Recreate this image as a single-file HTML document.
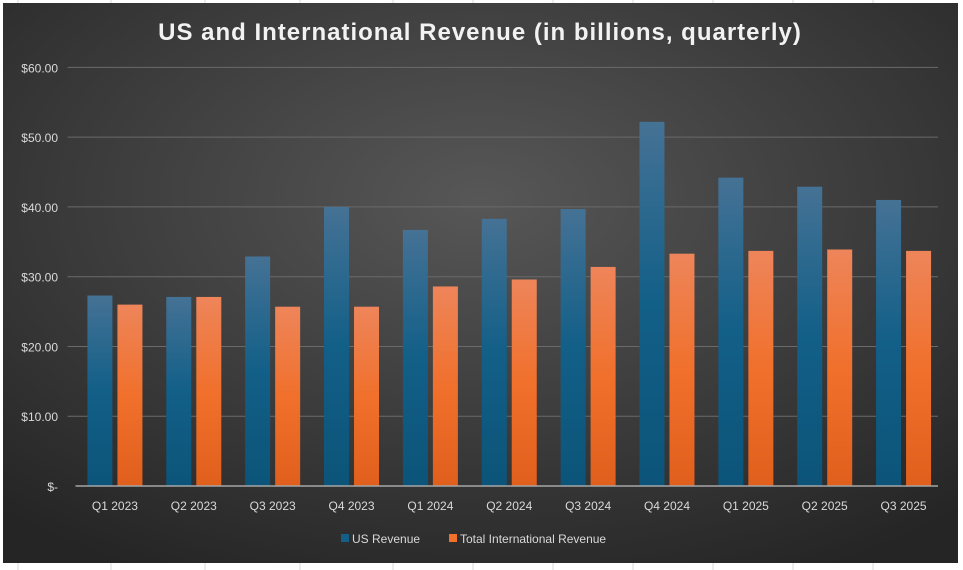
<!DOCTYPE html>
<html><head><meta charset="utf-8"><style>
html,body{margin:0;padding:0;background:#fff;width:963px;height:570px;overflow:hidden}
svg{display:block;font-family:"Liberation Sans",sans-serif}
</style></head><body>
<svg width="963" height="570">
<defs>
<radialGradient id="bg" cx="0.5" cy="0.35" r="0.75">
<stop offset="0" stop-color="#575757"/><stop offset="1" stop-color="#252525"/>
</radialGradient>
<linearGradient id="gUS" x1="0" y1="0" x2="0" y2="1">
<stop offset="0" stop-color="#457295"/><stop offset="0.5" stop-color="#125f88"/><stop offset="1" stop-color="#0c5479"/>
</linearGradient>
<linearGradient id="gIN" x1="0" y1="0" x2="0" y2="1">
<stop offset="0" stop-color="#ee855a"/><stop offset="0.5" stop-color="#f0702c"/><stop offset="1" stop-color="#e05f1c"/>
</linearGradient>
</defs>
<g stroke="#d8d8d8" stroke-width="1">
<line x1="18" y1="0" x2="18" y2="570"/><line x1="111" y1="0" x2="111" y2="570"/><line x1="205" y1="0" x2="205" y2="570"/><line x1="300" y1="0" x2="300" y2="570"/><line x1="393" y1="0" x2="393" y2="570"/><line x1="473" y1="0" x2="473" y2="570"/><line x1="553" y1="0" x2="553" y2="570"/><line x1="633" y1="0" x2="633" y2="570"/><line x1="713" y1="0" x2="713" y2="570"/><line x1="793" y1="0" x2="793" y2="570"/><line x1="873" y1="0" x2="873" y2="570"/>
</g>
<rect x="3" y="3" width="955" height="560" fill="url(#bg)"/>
<text x="480" y="40" text-anchor="middle" fill="#f2f2f2" font-size="24" font-weight="bold" letter-spacing="1">US and International Revenue (in billions, quarterly)</text>
<g id="plot"></g>
<g>
<rect x="341" y="534" width="8" height="8" fill="#125f88"/>
<text x="352" y="543" fill="#d9d9d9" font-size="12">US Revenue</text>
<rect x="449" y="534" width="8" height="8" fill="#f0702c"/>
<text x="460" y="543" fill="#d9d9d9" font-size="12">Total International Revenue</text>
</g>
</svg>
<script>
const categories=["Q1 2023","Q2 2023","Q3 2023","Q4 2023","Q1 2024","Q2 2024","Q3 2024","Q4 2024","Q1 2025","Q2 2025","Q3 2025"];
const usRevenue=[27.3,27.1,32.9,40.0,36.7,38.3,39.7,52.2,44.2,42.9,41.0];
const intlRevenue=[26.0,27.1,25.7,25.7,28.6,29.6,31.4,33.3,33.7,33.9,33.7];
const yTicks=[0,10,20,30,40,50,60];
const yTickLabels=["$-","$10.00","$20.00","$30.00","$40.00","$50.00","$60.00"];
const NS="http://www.w3.org/2000/svg";
const plotG=document.getElementById('plot');
const plotLeft=75.5,plotRight=943,plotBase=486,plotTop=67.4,maxV=60;
const step=(plotRight-plotLeft)/categories.length;
function yPos(v){return plotBase-(v/maxV)*(plotBase-plotTop);}
function xPos(i){return plotLeft+step*(i+0.5);}
function mk(t,a){const e=document.createElementNS(NS,t);for(const k in a)e.setAttribute(k,a[k]);plotG.appendChild(e);return e;}
yTicks.forEach((v,i)=>{
 if(v>0){const l=mk('line',{x1:plotLeft-8,x2:938,y1:yPos(v),y2:yPos(v),stroke:'#6a6a6a','stroke-width':1});
 
 }
 const t=mk('text',{x:58,y:yPos(v)+5,'text-anchor':'end',fill:'#d9d9d9','font-size':12});
 t.textContent=yTickLabels[i];
 
 
});
const bw=25,gap=5;
categories.forEach((c,i)=>{
 const cx=xPos(i);
 const b1=mk('rect',{x:cx-gap/2-bw,y:yPos(usRevenue[i]),width:bw,height:plotBase-yPos(usRevenue[i]),fill:'url(#gUS)'});
 
 
 const b2=mk('rect',{x:cx+gap/2,y:yPos(intlRevenue[i]),width:bw,height:plotBase-yPos(intlRevenue[i]),fill:'url(#gIN)'});
 
 
 const t=mk('text',{x:cx,y:510,'text-anchor':'middle',fill:'#d9d9d9','font-size':12});
 t.textContent=c;
 
 
});
const ax=mk('line',{x1:plotLeft,x2:938,y1:plotBase,y2:plotBase,stroke:'#a6a6a6','stroke-width':1.5});


</script>
</body></html>
